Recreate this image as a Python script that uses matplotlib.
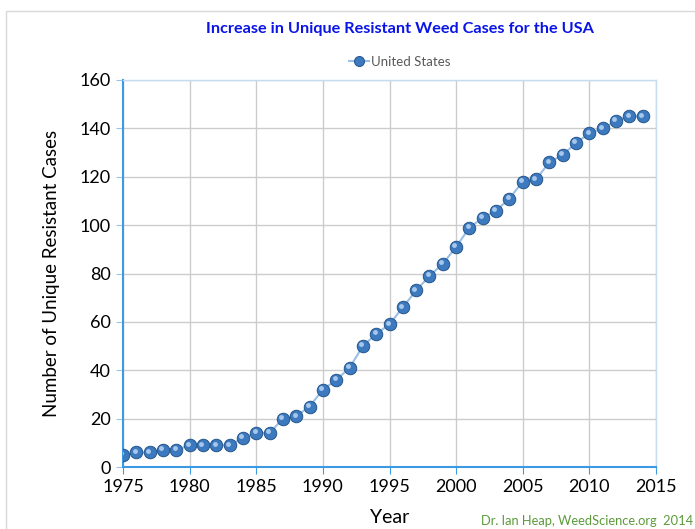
import numpy as np
import matplotlib.pyplot as plt
import matplotlib.patches as mpatches
from matplotlib.transforms import offset_copy

plt.rcParams['font.family'] = ['Lato', 'DejaVu Sans']

# data
years = list(range(1975, 2015))
cases = [5, 6, 6, 7, 7, 9, 9, 9, 9, 12,
         14, 14, 20, 21, 25, 32, 36, 41, 50, 55,
         59, 66, 73, 79, 84, 91, 99, 103, 106, 111,
         118, 119, 126, 129, 134, 138, 140, 143, 145, 145]
x_ticks = [1975, 1980, 1985, 1990, 1995, 2000, 2005, 2010, 2015]
y_ticks = [0, 20, 40, 60, 80, 100, 120, 140, 160]

W, H = 695, 529
fig = plt.figure(figsize=(W / 100, H / 100), dpi=100)

# outer chart frame
fig.patches.append(mpatches.Rectangle((6 / W, -0.01), 1.0, 1 - 11 / H + 0.01,
                                      transform=fig.transFigure, fill=False,
                                      edgecolor='#d9d9d9', linewidth=1))

ax = fig.add_axes([123 / W, 1 - 467 / H, (656 - 123) / W, (467 - 80) / H])

ax.plot(years, cases, color='#9bbfe6', linewidth=1.5, marker='o', markersize=9,
        markerfacecolor='#3c79bf', markeredgecolor='#24558c', markeredgewidth=0.7,
        zorder=4, label='United States')
# highlight on each sphere, shifted up-left
hl = offset_copy(ax.transData, fig=fig, x=-1.2, y=1.2, units='points')
ax.plot(years, cases, linestyle='none', marker='o', markersize=3.5,
        markerfacecolor='#b9d6f4', markeredgewidth=0, alpha=0.85, zorder=5,
        transform=hl)

ax.set_xlim(1975, 2015)
ax.set_ylim(0, 160)
ax.set_xticks(x_ticks)
ax.set_yticks(y_ticks)
ax.grid(True, color='#cccccc', linewidth=1)
ax.set_axisbelow(True)

for side in ['top', 'right']:
    ax.spines[side].set_color('#c5dcf2')
    ax.spines[side].set_linewidth(1)
for side in ['left', 'bottom']:
    ax.spines[side].set_color('#3b9ae1')
    ax.spines[side].set_linewidth(1.5)
ax.tick_params(axis='both', direction='out', length=5, color='#3b9ae1',
               labelsize=13, labelcolor='#000000', pad=4)
ax.tick_params(axis='y', color='#9cc3ea')

ax.set_xlabel('Year', fontsize=14, labelpad=10)
ax.set_ylabel('Number of Unique Resistant Cases', fontsize=13.5, labelpad=14)

fig.text(400 / W, 1 - 29 / H, 'Increase in Unique Resistant Weed Cases for the USA',
         ha='center', va='center', fontsize=11.7, fontweight='bold', color='#0a14e6')

ax.legend(loc='center', bbox_to_anchor=(400 / W, 1 - 62 / H),
          bbox_transform=fig.transFigure, frameon=False, fontsize=9.5,
          labelcolor='#595959', handlelength=1.5, handletextpad=0.2, markerscale=0.8)

fig.text(693 / W, 1 - 521 / H, 'Dr. Ian Heap, WeedScience.org  2014',
         ha='right', va='center', fontsize=9.3, color='#5b9b3a')

fig.savefig('out.png', dpi=100)
